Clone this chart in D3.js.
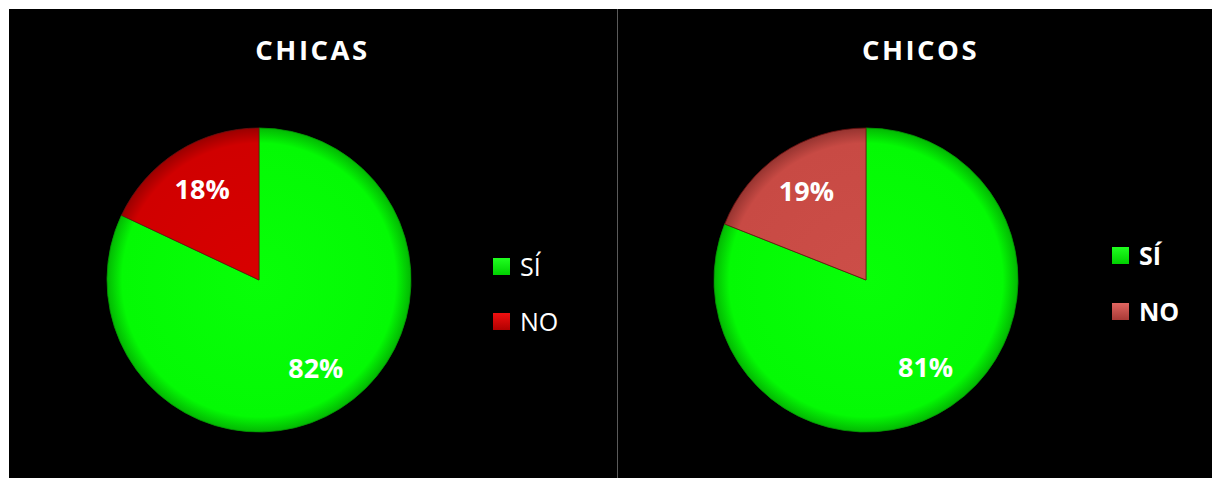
<!DOCTYPE html>
<html><head><meta charset="utf-8">
<script src="https://cdn.jsdelivr.net/npm/d3@7"></script>
<style>
html,body{margin:0;padding:0;background:#fff;}
svg{display:block;}
</style></head>
<body>
<svg id="c" width="1212" height="478"></svg>
<script>
const categories = ["SÍ", "NO"];
const chicasValues = [82, 18];
const chicosValues = [81, 19];
const titles = ["CHICAS", "CHICOS"];

const svg = d3.select("#c");
const defs = svg.append("defs");

function radial(id, inner, mid, outer) {
  const g = defs.append("radialGradient").attr("id", id)
    .attr("gradientUnits", "userSpaceOnUse").attr("cx", 0).attr("cy", 0).attr("r", 152);
  g.append("stop").attr("offset", "0%").attr("stop-color", inner);
  g.append("stop").attr("offset", "90%").attr("stop-color", mid);
  g.append("stop").attr("offset", "100%").attr("stop-color", outer);
}
radial("gGreen", "#08ff08", "#04fa04", "#03b803");
radial("gRed1", "#d80000", "#d00000", "#9a0000");
radial("gRed2", "#cc4e48", "#c84a44", "#963430");

function lin(id, a, b) {
  const g = defs.append("linearGradient").attr("id", id).attr("x1", 0).attr("y1", 0).attr("x2", 0).attr("y2", 1);
  g.append("stop").attr("offset", "0%").attr("stop-color", a);
  g.append("stop").attr("offset", "100%").attr("stop-color", b);
}
lin("lGreen", "#20ff20", "#00d000");
lin("lRed1", "#f01010", "#b00000");
lin("lRed2", "#e06560", "#a83a36");

// background
svg.append("rect").attr("x", 9).attr("y", 9).attr("width", 1203).attr("height", 469).attr("fill", "#000");
svg.append("line").attr("x1", 617.5).attr("x2", 617.5).attr("y1", 9).attr("y2", 478)
  .attr("stroke", "#5a5a5a").attr("stroke-width", 1);

const panels = [
  { title: titles[0], values: chicasValues, cx: 259, cy: 280, titleX: 311, fills: ["url(#gGreen)", "url(#gRed1)"],
    legFills: ["url(#lGreen)", "url(#lRed1)"], legX: 493, legY: [258, 313], legWeight: 400 },
  { title: titles[1], values: chicosValues, cx: 866, cy: 280, titleX: 919, fills: ["url(#gGreen)", "url(#gRed2)"],
    legFills: ["url(#lGreen)", "url(#lRed2)"], legX: 1112, legY: [247, 303], legWeight: 700 }
];

const R = 152;
const pie = d3.pie().sort(null).value(d => d.value);
const arc = d3.arc().innerRadius(0).outerRadius(R);
const labelArc = d3.arc().innerRadius(106).outerRadius(106);
const fmt = v => v + "%";

panels.forEach(p => {
  const data = categories.map((c, i) => ({ cat: c, value: p.values[i] }));
  svg.append("text").attr("x", p.titleX + 1.5).attr("y", 60).attr("text-anchor", "middle")
    .attr("fill", "#fff").attr("font-family", "'Open Sans', sans-serif").attr("font-weight", 700)
    .attr("font-size", 27.5).attr("letter-spacing", 2.5).text(p.title);

  const g = svg.append("g").attr("transform", `translate(${p.cx},${p.cy})`);
  const arcs = pie(data);
  g.selectAll("path").data(arcs).join("path")
    .attr("d", arc)
    .attr("fill", (d, i) => p.fills[i])
    .attr("stroke", (d, i) => i === 0 ? "#049a04" : "#6a1010")
    .attr("stroke-width", 0.8);
  g.selectAll("text").data(arcs).join("text")
    .attr("transform", d => `translate(${labelArc.centroid(d)})`)
    .attr("text-anchor", "middle").attr("dy", "0.33em")
    .attr("fill", "#fff").attr("font-family", "'Open Sans', sans-serif").attr("font-weight", 700)
    .attr("font-size", 27).text(d => fmt(d.data.value));

  categories.forEach((c, i) => {
    svg.append("rect").attr("x", p.legX).attr("y", p.legY[i]).attr("width", 17).attr("height", 17)
      .attr("fill", p.legFills[i]);
    svg.append("text").attr("x", p.legX + 27).attr("y", p.legY[i] + 17.5)
      .attr("fill", "#fff").attr("font-family", "'Open Sans', sans-serif").attr("font-weight", p.legWeight)
      .attr("font-size", 25).text(c);
  });
});
</script>
</body></html>
